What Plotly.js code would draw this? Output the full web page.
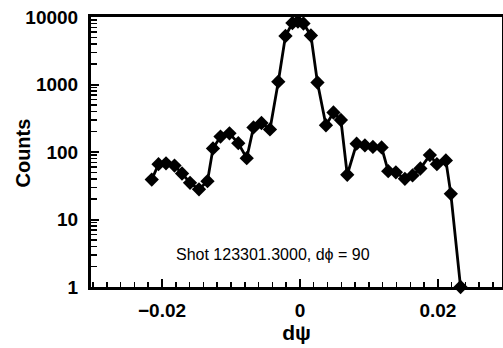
<!DOCTYPE html>
<html>
<head>
<meta charset="utf-8">
<script src="https://cdn.plot.ly/plotly-3.0.1.min.js"></script>
<style>
html,body{margin:0;padding:0;background:#fff;}
#chart{width:503px;height:348px;}
</style>
</head>
<body>
<div id="chart"></div>
<script>
// Data
const dpsi = [-0.02149, -0.02051, -0.01942, -0.01819, -0.01710, -0.01594, -0.01464, -0.01341,
  -0.01261, -0.01152, -0.01022, -0.00894, -0.00772, -0.00674, -0.00558, -0.00435,
  -0.00314, -0.00210, -0.00109, -0.00029, 0.00051, 0.00159, 0.00254, 0.00377,
  0.00486, 0.00594, 0.00686, 0.00822, 0.00942, 0.01058, 0.01184, 0.01280,
  0.01391, 0.01522, 0.01633, 0.01746, 0.01884, 0.01986, 0.02116, 0.02188, 0.02329];
const counts = [39, 66, 68, 63, 48, 35, 28, 37,
  113, 169, 189, 135, 81, 231, 269, 216,
  1100, 5230, 8150, 8570, 8010, 5320, 1070, 249,
  385, 298, 46, 133, 125, 119, 117, 52,
  50, 40, 45, 57, 90, 66, 75, 24, 1];

const xTickVals = [-0.02, -0.01, 0, 0.01, 0.02];
const xTickText = ['\u22120.02', '', '0', '', '0.02'];
const yTickVals = [1, 10, 100, 1000, 10000];
const yTickText = ['1', '10', '100', '1000', '10000'];
const annotationText = 'Shot 123301.3000, d\u03D5 = 90';
const xTitle = 'd\u03C8';
const yTitle = 'Counts';

// minor tick positions
const xMinor = [];
for (let i = -15; i <= 15; i++) xMinor.push(+(i * 0.002).toFixed(4));
const yMinor = [];
for (let d = 0; d < 4; d++) for (let k = 2; k <= 9; k++) yMinor.push(k * Math.pow(10, d));

const FONT = 'Liberation Sans, Arial, Helvetica, sans-serif';

const trace = {
  x: dpsi, y: counts, type: 'scatter', mode: 'lines+markers',
  line: {color: '#000', width: 2.8},
  marker: {symbol: 'diamond', size: 11, color: '#000'},
  cliponaxis: false, hoverinfo: 'skip'
};

const layout = {
  width: 503, height: 348,
  margin: {l: 91, r: 1, t: 17, b: 61},
  paper_bgcolor: '#fff', plot_bgcolor: '#fff',
  showlegend: false,
  font: {family: FONT, color: '#000'},
  xaxis: {
    range: [-0.0303, 0.0293],
    tickmode: 'array', tickvals: xTickVals, ticktext: xTickText,
    ticks: 'inside', ticklen: 8, tickwidth: 2, tickcolor: '#000',
    minor: {tickmode: 'array', tickvals: xMinor, ticks: 'inside', ticklen: 5, tickwidth: 1.5, tickcolor: '#000', showgrid: false},
    showline: true, linewidth: 3, linecolor: '#000', mirror: true,
    showgrid: false, zeroline: false,
    tickfont: {family: FONT, size: 19, weight: 'bold', color: '#000'},
    ticklabelstandoff: 4,
    title: {text: xTitle, font: {family: FONT, size: 21, weight: 'bold', color: '#000'}, standoff: 5}
  },
  yaxis: {
    type: 'log', range: [0, 4],
    tickmode: 'array', tickvals: yTickVals, ticktext: yTickText,
    ticks: 'inside', ticklen: 8, tickwidth: 2, tickcolor: '#000',
    minor: {tickmode: 'array', tickvals: yMinor, ticks: 'inside', ticklen: 6, tickwidth: 1.5, tickcolor: '#000', showgrid: false},
    showline: true, linewidth: 3, linecolor: '#000', mirror: true,
    showgrid: false, zeroline: false,
    tickfont: {family: FONT, size: 19, weight: 'bold', color: '#000'},
    ticklabelstandoff: 6
  },
  annotations: [{
    text: annotationText, xref: 'x', yref: 'paper',
    x: -0.0039, y: 0.12, xanchor: 'center', yanchor: 'middle', showarrow: false,
    font: {family: FONT, size: 16, color: '#000'}
  }, {
    text: yTitle, xref: 'paper', yref: 'paper', textangle: -90,
    x: -0.1655, y: 0.498, xanchor: 'center', yanchor: 'middle', showarrow: false,
    font: {family: FONT, size: 20, weight: 'bold', color: '#000'}
  }]
};

Plotly.newPlot('chart', [trace], layout, {displayModeBar: false, staticPlot: true});
</script>
</body>
</html>
